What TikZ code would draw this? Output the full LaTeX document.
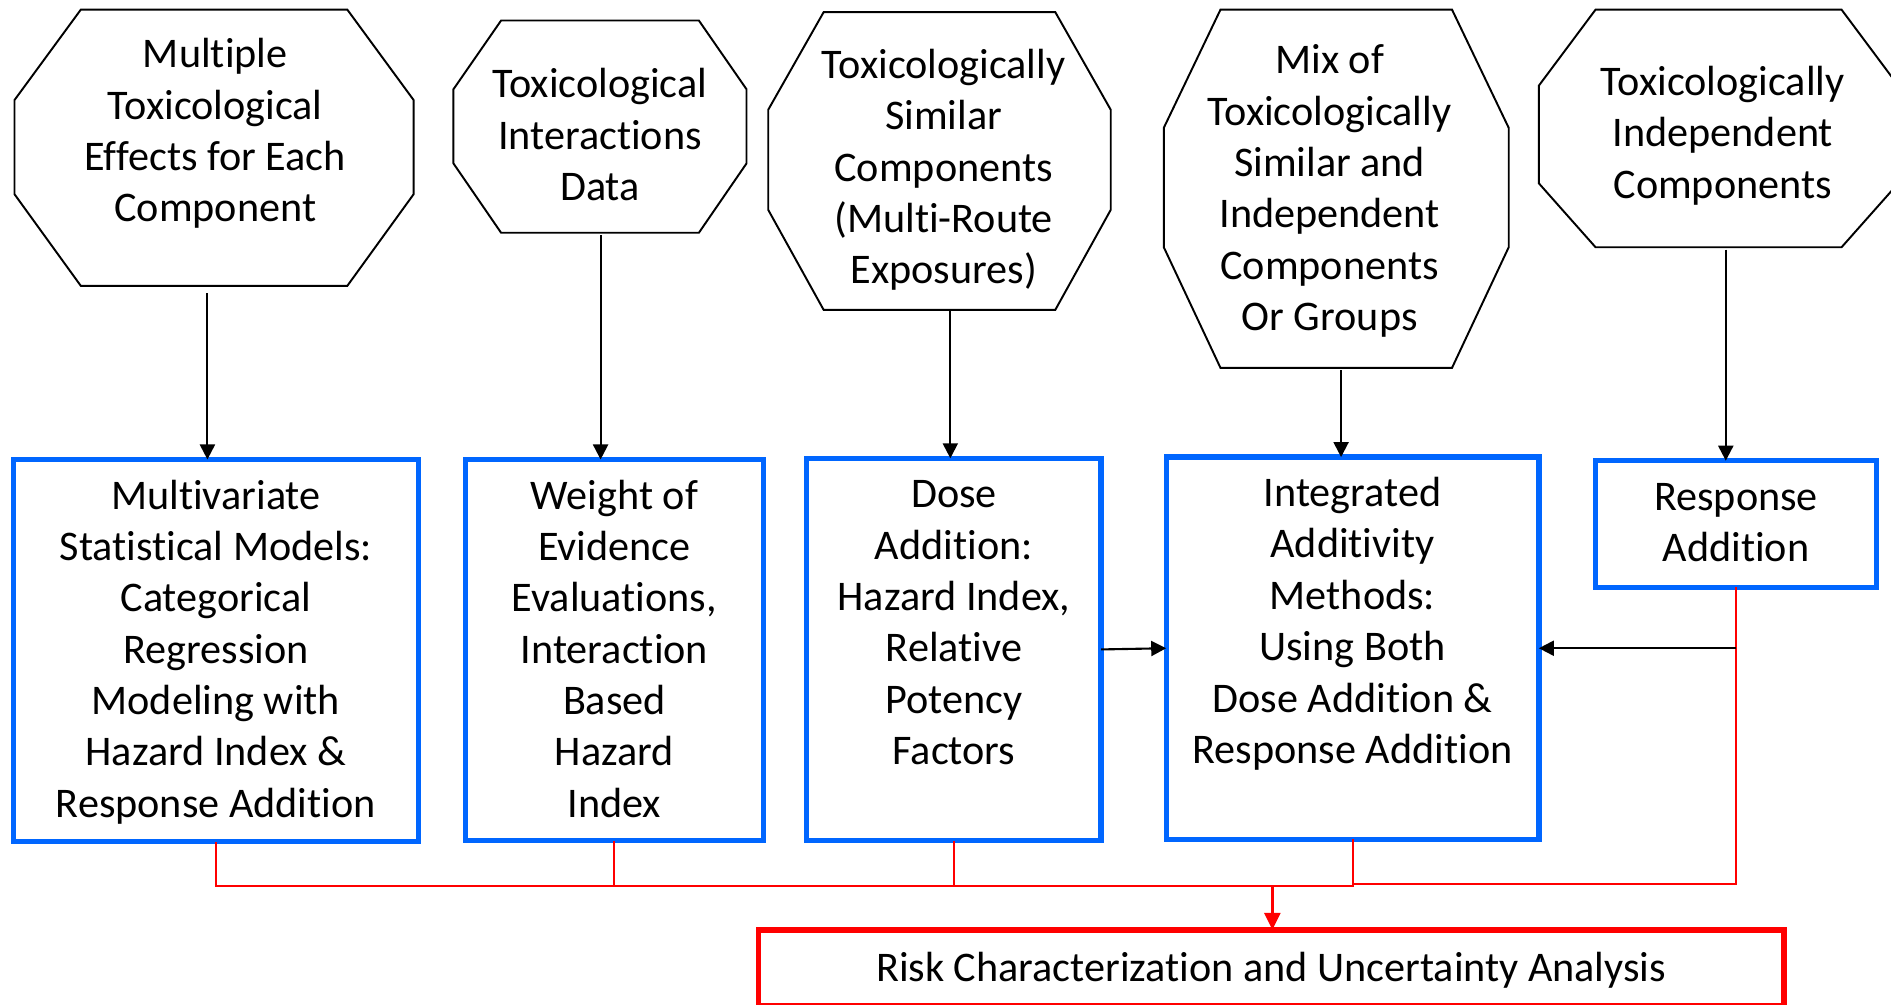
\documentclass[tikz,border=0pt]{standalone}
\usepackage{fontspec}
\setmainfont{Carlito}[Ligatures={NoCommon}]
\usetikzlibrary{arrows.meta}

\newlength\unitpx
\setlength\unitpx{0.01206cm}
\definecolor{boxblue}{RGB}{0,102,255}
\definecolor{linkred}{RGB}{255,0,0}

% [horizontal text offset], width, height, top gap, lines -- a fixed-size, top-aligned text panel
\newcommand\panel[5][0]{\parbox[c][#3\unitpx][t]{#2\unitpx}{\centering
  \leftskip=\dimexpr #1\unitpx*2\relax plus 1fil
  \fontsize{12}{14.6}\selectfont\vspace*{#4\unitpx}\strut #5}}
% node name, corner inset, upper diagonal drop, lower diagonal rise
\newcommand\octframe[4]{%
  \draw[octline] ([xshift=#2\unitpx]#1.north west) -- ([xshift=-#2\unitpx]#1.north east)
    -- ([yshift=-#3\unitpx]#1.north east) -- ([yshift=#4\unitpx]#1.south east)
    -- ([xshift=-#2\unitpx]#1.south east) -- ([xshift=#2\unitpx]#1.south west)
    -- ([yshift=#4\unitpx]#1.south west) -- ([yshift=-#3\unitpx]#1.north west) -- cycle;}

\begin{document}
\begin{tikzpicture}[x=\unitpx, y=-\unitpx,
  octnode/.style={inner sep=0pt, outer sep=0pt, anchor=north west},
  octline/.style={draw=black, line width=0.55pt, line join=miter},
  bluebox/.style={draw=boxblue, line width=1.5pt, inner sep=0pt, outer sep=0pt, anchor=north west},
  riskbox/.style={draw=linkred, line width=1.6pt, inner sep=0pt, outer sep=0pt, anchor=north west},
  arr/.style={draw=black, line width=0.6pt, -{Triangle[length=1.5mm, width=1.5mm]}},
  redlink/.style={draw=linkred, line width=0.55pt},
  redarr/.style={draw=linkred, line width=0.8pt, -{Triangle[length=1.7mm, width=1.6mm]}}]

\useasboundingbox (0,0) rectangle (1568,833);
\clip (0,0) rectangle (1568,833);

% input categories
\node[octnode] (o1) at (12,8)   {\panel[1]{331}{229}{18.3}{Multiple\\Toxicological\\Effects for Each\\Component}};
\node[octnode] (o2) at (376,17) {\panel{243}{176}{34.3}{Toxicological\\Interactions\\Data}};
\node[octnode] (o3) at (637,10) {\panel[3.5]{284}{247}{25.3}{Toxicologically\\Similar\\Components\\(Multi-Route\\Exposures)}};
\node[octnode] (o4) at (965,8)  {\panel[-5.5]{286}{297}{23.3}{Mix of\\Toxicologically\\Similar and\\Independent\\Components\\Or Groups}};
\node[octnode] (o5) at (1276,8) {\panel[3.5]{298}{197}{41.3}{Toxicologically\\Independent\\Components}};
\octframe{o1}{55}{75}{76}
\octframe{o2}{39.5}{57}{57.5}
\octframe{o3}{46}{81}{83}
\octframe{o4}{47}{98}{100}
\octframe{o5}{47}{63}{53}

% assessment methods
\node[bluebox] (b1) at (11,381)  {\panel{336}{317}{11.3}{Multivariate\\Statistical Models:\\Categorical\\Regression\\Modeling with\\Hazard Index \&\\Response Addition}};
\node[bluebox] (b2) at (386,381) {\panel{247}{316}{11.3}{Weight of\\Evidence\\Evaluations,\\Interaction\\Based\\Hazard\\Index}};
\node[bluebox] (b3) at (669,380) {\panel{244}{317}{11.3}{Dose\\Addition:\\Hazard Index,\\Relative\\Potency\\Factors}};
\node[bluebox] (b4) at (967,379) {\panel{309}{317}{11.3}{Integrated\\Additivity\\Methods:\\Using Both\\Dose Addition \&\\Response Addition}};
\node[bluebox] (b5) at (1323,382) {\panel{233}{105}{11.3}{Response\\Addition}};

% final step
\node[riskbox] (rk) at (629,771) {\panel{850}{63}{13.3}{Risk Characterization and Uncertainty Analysis}};

% categories to methods
\draw[arr, shorten <=6\unitpx] ([xshift=-5.5\unitpx]o1.south) -- ([xshift=-5.5\unitpx]o1.south |- b1.north);
\draw[arr, shorten <=2\unitpx] ([xshift=0.5\unitpx]o2.south) -- ([xshift=0.5\unitpx]o2.south |- b2.north);
\draw[arr] ([xshift=9\unitpx]o3.south) -- ([xshift=9\unitpx]o3.south |- b3.north);
\draw[arr, shorten <=2\unitpx] ([xshift=4\unitpx]o4.south) -- ([xshift=4\unitpx]o4.south |- b4.north);
\draw[arr, shorten <=2\unitpx] ([xshift=6\unitpx]o5.south) -- ([xshift=6\unitpx]o5.south |- b5.north);

% methods to risk characterization
\coordinate (jn) at (1055,735);
\coordinate (jr) at (1121.5,733);
\draw[redlink] (b1.south) |- (jn);
\draw[redlink] (b2.south) |- (jn);
\draw[redlink] (b3.south) |- (jn);
\draw[redlink] (b4.south) |- (jn);
\draw[redlink] (b5.south) |- (jr);
\draw[redarr] (jn) -- (jn |- rk.north);

% links into the integrated methods
\draw[arr] (b3.east) -- (b4.west);
\draw[arr] (b4.east -| b5.south) -- (b4.east);
\end{tikzpicture}
\end{document}
